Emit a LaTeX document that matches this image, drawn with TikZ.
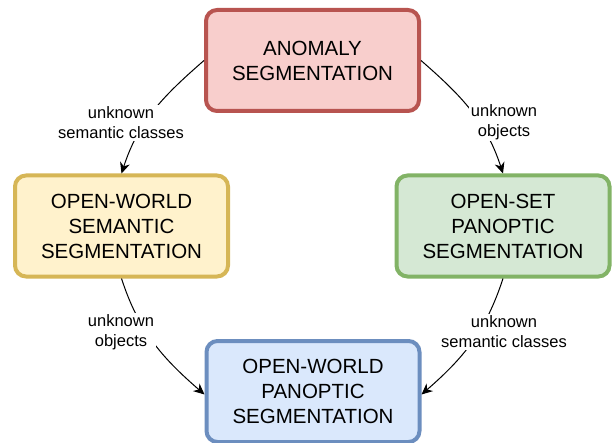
\documentclass[tikz,border=0pt]{standalone}
\usepackage{fontspec}
\setmainfont{Liberation Sans}
\usetikzlibrary{arrows.meta}

\definecolor{redfill}{HTML}{F8CECC}
\definecolor{reddraw}{HTML}{B85450}
\definecolor{yellowfill}{HTML}{FFF2CC}
\definecolor{yellowdraw}{HTML}{D6B656}
\definecolor{greenfill}{HTML}{D5E8D4}
\definecolor{greendraw}{HTML}{82B366}
\definecolor{bluefill}{HTML}{DAE8FC}
\definecolor{bluedraw}{HTML}{6C8EBF}

\tikzset{
  task/.style={shape=rectangle, rounded corners=11pt, line width=4pt,
    minimum width=213pt, minimum height=101pt, align=center,
    font=\fontsize{20.5}{25}\selectfont},
  lbl/.style={fill=white, align=center, inner sep=1.5pt,
    font=\fontsize{16.5}{20}\selectfont},
  link/.style={line width=1pt, -{Stealth[length=11pt,width=10pt,inset=3.5pt]}}
}

\begin{document}
\begin{tikzpicture}[x=1pt,y=1pt]
\useasboundingbox (0,0) rectangle (612,442);

%draw the four task boxes
\node [task, draw=reddraw, fill=redfill] at (312.5,381.5) (anomaly) {ANOMALY\\SEGMENTATION};
\node [task, draw=yellowdraw, fill=yellowfill] at (121.5,216) (owss) {OPEN-WORLD\\SEMANTIC\\SEGMENTATION};
\node [task, draw=greendraw, fill=greenfill] at (503,216) (ospan) {OPEN-SET\\PANOPTIC\\SEGMENTATION};
\node [task, draw=bluedraw, fill=bluefill] at (313,50.5) (owps) {OPEN-WORLD\\PANOPTIC\\SEGMENTATION};

%curved edges between the tasks
\draw [link] (anomaly.west) to[out=221,in=72] (owss.north);
\draw [link] (anomaly.east) to[out=-41,in=108] (ospan.north);
\draw [link] (owss.south) to[out=-72,in=139] ([yshift=-3pt]owps.west);
\draw [link] (ospan.south) to[out=-108,in=41] ([yshift=-3pt]owps.east);

%labels sit on top of the edges
\node [lbl] at (121,319) (lbl_as) {unknown\\semantic classes};
\node [lbl] at (504,320) (lbl_ao) {unknown\\objects};
\node [lbl] at (121,110) (lbl_so) {unknown\\objects};
\node [lbl] at (504,110) (lbl_ps) {unknown\\semantic classes};

\end{tikzpicture}
\end{document}
